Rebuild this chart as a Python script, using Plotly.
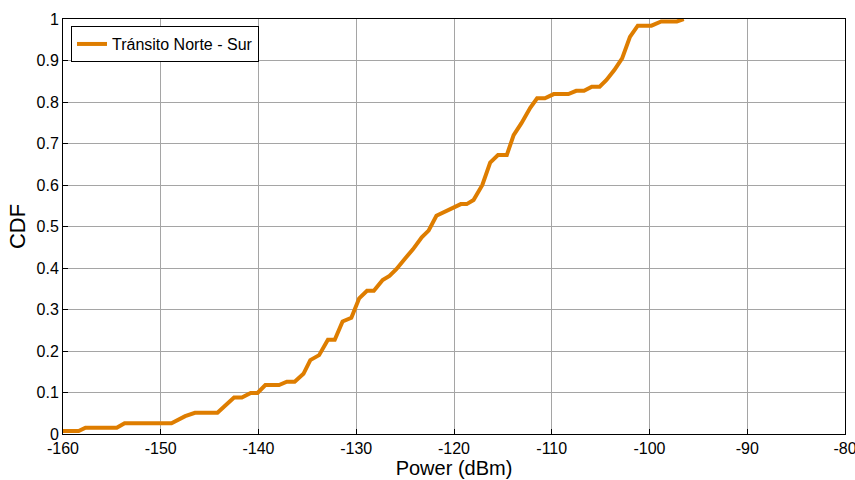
import plotly.graph_objects as go

power_dbm = [-160.0, -158.4, -157.7, -154.5, -153.7, -148.9, -147.5, -146.5, -144.2,
             -142.5, -141.7, -140.8, -140.1, -139.3, -137.9, -137.1, -136.3, -135.4,
             -134.7, -133.8, -132.9, -132.2, -131.4, -130.5, -129.7, -128.9, -128.2,
             -127.3, -126.6, -125.9, -125.0, -124.2, -123.3, -122.6, -121.8, -120.9,
             -120.1, -119.3, -118.7, -118.0, -117.1, -116.3, -115.5, -114.6, -113.9,
             -113.1, -112.2, -111.5, -110.7, -109.8, -108.3, -107.5, -106.7, -105.9,
             -105.1, -104.4, -103.6, -102.8, -102.0, -101.2, -99.8, -98.8, -97.2, -96.5]
cdf = [0.007, 0.007, 0.015, 0.015, 0.026, 0.026, 0.043, 0.051, 0.051,
       0.088, 0.088, 0.099, 0.099, 0.118, 0.118, 0.126, 0.126, 0.145,
       0.178, 0.190, 0.227, 0.227, 0.271, 0.280, 0.327, 0.345, 0.345,
       0.371, 0.381, 0.397, 0.423, 0.445, 0.474, 0.490, 0.526, 0.537,
       0.546, 0.554, 0.554, 0.564, 0.600, 0.654, 0.672, 0.672, 0.720,
       0.749, 0.786, 0.809, 0.809, 0.819, 0.819, 0.827, 0.827, 0.837,
       0.837, 0.853, 0.877, 0.905, 0.957, 0.984, 0.984, 0.994, 0.994, 1.0]
series_name = "Tránsito Norte - Sur"
x_ticks = [-160, -150, -140, -130, -120, -110, -100, -90, -80]
x_tick_labels = ["-160", "-150", "-140", "-130", "-120", "-110", "-100", "-90", "-80"]
y_ticks = [0, 0.1, 0.2, 0.3, 0.4, 0.5, 0.6, 0.7, 0.8, 0.9, 1]
y_tick_labels = ["0", "0.1", "0.2", "0.3", "0.4", "0.5", "0.6", "0.7", "0.8", "0.9", "1"]

FONT = "Liberation Sans, Arial, sans-serif"

fig = go.Figure()
fig.add_trace(go.Scatter(
    x=power_dbm, y=cdf, mode="lines", name=series_name,
    line=dict(color="rgb(222,125,0)", width=4),
    showlegend=True,
))

axis_common = dict(
    showline=True, linecolor="black", linewidth=1, mirror=True,
    ticks="inside", ticklen=5, tickcolor="black",
    showgrid=True, gridcolor="rgb(165,165,165)", gridwidth=1,
    zeroline=False, automargin=False, ticklabeloverflow="allow",
    tickfont=dict(family=FONT, size=16, color="black"),
)

fig.update_xaxes(
    range=[-160, -80], tickvals=x_ticks, ticktext=x_tick_labels,
    title=dict(text="Power (dBm)", standoff=0,
               font=dict(family=FONT, size=20, color="black")),
    **axis_common,
)
fig.update_yaxes(
    range=[0, 1], tickvals=y_ticks, ticktext=y_tick_labels,
    title=dict(text="CDF", standoff=4,
               font=dict(family=FONT, size=22, color="black")),
    **axis_common,
)

fig.update_layout(
    width=855, height=480,
    margin=dict(l=63, r=10, t=19, b=46),
    paper_bgcolor="white", plot_bgcolor="white",
    legend=dict(
        x=0.0102, y=0.983, xanchor="left", yanchor="top",
        bgcolor="white", bordercolor="black", borderwidth=1,
        font=dict(family=FONT, size=16, color="black"),
        itemwidth=30, tracegroupgap=0,
    ),
)

fig.write_html(
    "out.html",
    config={"displayModeBar": False},
    post_script="document.body.style.margin='0';document.body.style.overflow='hidden';",
)
